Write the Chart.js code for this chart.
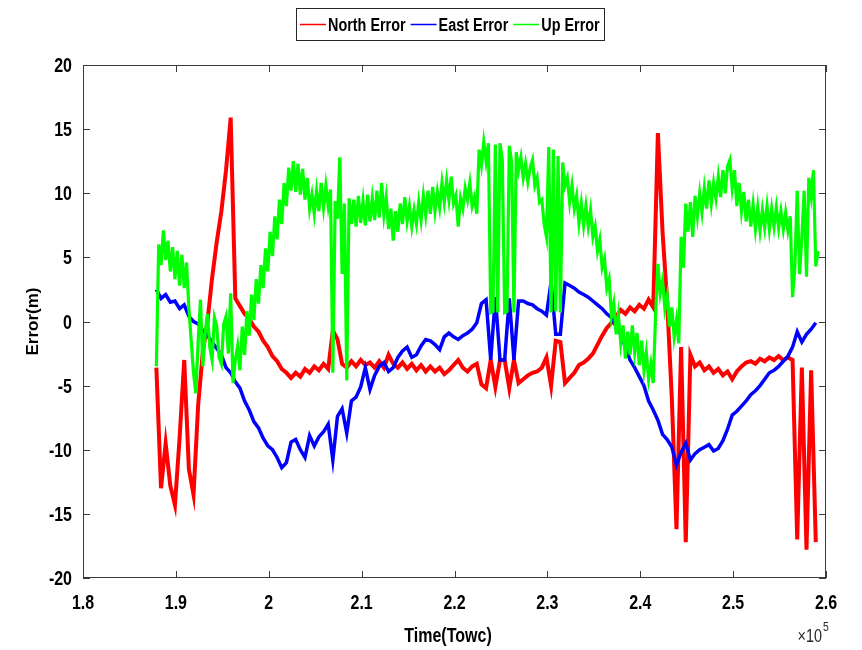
<!DOCTYPE html>
<html>
<head>
<meta charset="utf-8">
<script src="https://cdn.jsdelivr.net/npm/chart.js@4.4.0/dist/chart.umd.min.js"></script>
<style>
  html, body { margin: 0; padding: 0; background: #fff; }
  #wrap { width: 862px; height: 650px; }
</style>
</head>
<body>
<div id="wrap"><canvas id="errChart" width="862" height="650"></canvas></div>
<script>
// time of week (s) for North / East, every 500 s
const towc = [
  187900,188400,188900,189400,189900,190400,190900,191400,191900,192400,
  192900,193400,193900,194400,194900,195400,195900,196400,196900,197400,
  197900,198400,198900,199400,199900,200400,200900,201400,201900,202400,
  202900,203400,203900,204400,204900,205400,205900,206400,206900,207400,
  207900,208400,208900,209400,209900,210400,210900,211400,211900,212400,
  212900,213400,213900,214400,214900,215400,215900,216400,216900,217400,
  217900,218400,218900,219400,219900,220400,220900,221400,221900,222400,
  222900,223400,223900,224400,224900,225400,225900,226400,226900,227400,
  227900,228400,228900,229400,229900,230400,230900,231400,231900,232400,
  232900,233400,233900,234400,234900,235400,235900,236400,236900,237400,
  237900,238400,238900,239400,239900,240400,240900,241400,241900,242400,
  242900,243400,243900,244400,244900,245400,245900,246400,246900,247400,
  247900,248400,248900,249400,249900,250400,250900,251400,251900,252400,
  252900,253400,253900,254400,254900,255400,255900,256400,256900,257400,
  257900,258400,258900
];

const northError = [
  -3.6,-13.0,-9.5,-12.8,-14.3,-9.1,-3.0,-11.5,-13.5,-6.5,
  -2.4,0.0,3.4,6.2,8.6,11.8,15.9,1.8,1.2,0.6,
  0.2,-0.4,-0.8,-1.5,-2.0,-2.7,-3.1,-3.7,-4.0,-4.4,
  -4.0,-4.3,-3.7,-4.0,-3.5,-3.8,-3.3,-3.7,-0.7,-1.4,
  -3.3,-3.6,-3.1,-3.5,-3.0,-3.4,-3.2,-3.6,-3.1,-3.6,
  -2.6,-3.3,-3.6,-3.2,-3.7,-3.3,-3.8,-3.4,-3.9,-3.5,
  -3.9,-3.6,-4.1,-3.8,-3.4,-3.0,-3.6,-3.9,-3.5,-3.3,
  -4.9,-5.2,-3.0,-5.1,-3.0,-3.0,-5.2,-3.0,-4.8,-4.5,
  -4.2,-4.0,-3.9,-3.6,-2.8,-5.0,-1.5,-1.6,-4.8,-4.4,
  -4.0,-3.4,-3.2,-2.9,-2.5,-1.8,-1.1,-0.5,-0.1,0.4,
  0.9,0.6,1.1,0.8,1.3,1.0,1.7,1.1,14.7,7.0,
  1.5,-6.0,-16.2,-2.0,-17.2,-2.6,-3.5,-3.2,-3.8,-3.5,
  -4.0,-3.7,-4.2,-3.9,-4.5,-3.9,-3.5,-3.2,-3.1,-3.3,
  -2.9,-3.1,-2.8,-3.0,-2.7,-3.0,-2.8,-3.0,-17.0,-3.6,
  -17.8,-3.8,-17.2
];

const eastError = [
  2.5,1.8,2.1,1.5,1.6,1.0,1.3,0.4,0.0,-0.2,
  -0.7,-1.1,-1.6,-2.1,-2.6,-3.6,-4.0,-4.7,-5.2,-6.2,
  -6.9,-7.8,-8.3,-9.1,-9.7,-10.0,-10.6,-11.4,-11.0,-9.4,
  -9.2,-10.0,-10.6,-8.9,-9.7,-9.0,-8.6,-8.0,-10.8,-7.4,
  -6.8,-8.7,-6.2,-5.9,-5.1,-3.6,-5.3,-4.2,-3.5,-3.2,
  -3.9,-3.6,-2.8,-2.3,-2.0,-2.8,-2.6,-1.9,-1.4,-1.5,
  -1.8,-2.2,-1.2,-0.9,-1.2,-1.4,-1.1,-0.9,-0.6,-0.1,
  1.4,1.7,-3.0,1.9,-3.0,-3.0,1.8,-3.0,1.6,1.6,
  1.4,1.3,1.0,0.8,0.5,3.1,-1.0,-1.0,3.0,2.8,
  2.6,2.3,2.1,1.9,1.6,1.3,1.0,0.6,0.3,-0.4,
  -1.0,-2.0,-3.0,-3.6,-4.3,-5.0,-6.2,-6.9,-7.7,-8.8,
  -9.2,-9.8,-11.2,-10.2,-9.5,-10.8,-10.3,-10.0,-9.8,-9.6,
  -10.1,-9.9,-9.3,-8.4,-7.3,-7.0,-6.6,-6.2,-5.7,-5.4,
  -5.0,-4.5,-4.0,-3.8,-3.5,-3.1,-2.7,-2.0,-0.8,-1.6,
  -1.0,-0.6,-0.1
];

// Up error is noisier, read every 250 s (alternating band top / bottom)
const upTowc = [
  187900,188150,188400,188650,188900,189150,189400,189650,189900,190150,
  190400,190650,190900,191150,191400,191650,191900,192150,192400,192650,
  192900,193150,193400,193650,193900,194150,194400,194650,194900,195150,
  195400,195650,195900,196150,196400,196650,196900,197150,197400,197650,
  197900,198150,198400,198650,198900,199150,199400,199650,199900,200150,
  200400,200650,200900,201150,201400,201650,201900,202150,202400,202650,
  202900,203150,203400,203650,203900,204150,204400,204650,204900,205150,
  205400,205650,205900,206150,206400,206650,206900,207150,207400,207650,
  207900,208150,208400,208650,208900,209150,209400,209650,209900,210150,
  210400,210650,210900,211150,211400,211650,211900,212150,212400,212650,
  212900,213150,213400,213650,213900,214150,214400,214650,214900,215150,
  215400,215650,215900,216150,216400,216650,216900,217150,217400,217650,
  217900,218150,218400,218650,218900,219150,219400,219650,219900,220150,
  220400,220650,220900,221150,221400,221650,221900,222150,222400,222650,
  222900,223150,223400,223650,223900,224150,224400,224650,224900,225150,
  225400,225650,225900,226150,226400,226650,226900,227150,227400,227650,
  227900,228150,228400,228650,228900,229150,229400,229650,229900,230150,
  230400,230650,230900,231150,231400,231650,231900,232150,232400,232650,
  232900,233150,233400,233650,233900,234150,234400,234650,234900,235150,
  235400,235650,235900,236150,236400,236650,236900,237150,237400,237650,
  237900,238150,238400,238650,238900,239150,239400,239650,239900,240150,
  240400,240650,240900,241150,241400,241650,241900,242150,242400,242650,
  242900,243150,243400,243650,243900,244150,244400,244650,244900,245150,
  245400,245650,245900,246150,246400,246650,246900,247150,247400,247650,
  247900,248150,248400,248650,248900,249150,249400,249650,249900,250150,
  250400,250650,250900,251150,251400,251650,251900,252150,252400,252650,
  252900,253150,253400,253650,253900,254150,254400,254650,254900,255150,
  255400,255650,255900,256150,256400,256650,256900,257150,257400,257650,
  257900,258150,258400,258650,258900,259150
];

const upError = [
  -3.5,6.0,4.4,7.1,4.8,6.3,3.9,5.8,3.3,5.5,
  2.8,5.2,2.6,4.6,1.0,-1.5,-4.0,-5.6,-1.5,1.7,
  -3.5,-1.0,0.6,-2.0,-3.0,0.3,-0.4,-2.8,-3.3,-0.2,
  0.4,-2.5,2.2,-4.8,-3.0,-1.9,-3.8,-0.4,-2.6,0.8,
  -1.1,2.1,0.1,3.3,1.4,4.4,2.6,5.7,3.9,7.0,
  5.1,8.2,6.4,9.5,7.6,10.8,9.0,12.0,10.2,12.5,
  10.1,12.3,9.9,11.9,9.5,11.2,8.8,9.9,8.4,10.2,
  8.6,10.8,8.9,10.6,9.0,10.3,-4.0,9.4,8.0,12.8,
  3.7,9.2,-4.6,9.6,7.6,9.5,7.4,9.8,7.7,9.4,
  7.5,9.9,7.8,9.6,7.9,10.2,8.1,10.8,8.3,9.7,
  7.2,8.8,6.3,8.6,7.0,9.2,7.6,9.7,7.8,9.0,
  7.4,8.7,7.6,9.3,7.9,9.8,8.3,10.2,8.4,10.5,
  8.6,10.1,8.9,10.8,9.3,11.0,9.5,11.3,9.2,9.8,
  7.4,9.6,8.8,10.4,9.5,10.8,9.0,9.7,8.4,13.4,
  12.2,14.0,12.5,13.9,0.7,0.8,13.8,0.7,13.9,12.6,
  0.7,0.8,13.7,12.4,0.7,13.2,11.8,12.8,11.2,12.3,
  10.9,12.0,12.6,10.6,11.2,9.3,9.5,7.6,6.6,13.6,
  0.7,13.4,0.8,12.9,0.7,12.4,10.6,11.2,9.3,10.6,
  8.8,9.8,7.7,9.2,7.5,9.0,7.4,8.7,6.6,7.4,
  5.5,6.4,4.2,4.9,2.6,3.3,0.4,1.4,-1.0,0.5,
  -1.7,-0.3,-2.9,-0.8,-2.6,-0.3,-2.4,-0.9,-3.4,-1.5,
  -3.8,-2.4,-4.5,-3.3,-4.8,0.5,4.5,2.2,3.2,1.0,
  2.0,-0.4,1.1,-1.2,0.1,-1.7,6.6,4.2,9.2,7.0,
  9.3,6.6,9.8,8.2,10.0,8.5,10.4,8.8,11.0,9.2,
  10.8,9.6,11.3,9.7,11.8,10.0,12.1,12.6,10.4,11.8,
  9.0,10.8,8.6,10.1,7.8,9.5,7.4,9.1,7.2,8.9,
  7.1,8.7,7.3,9.0,7.2,8.8,7.4,8.9,7.3,8.6,
  7.2,8.5,7.1,8.2,1.9,4.3,10.2,3.7,6.5,10.2,
  3.5,11.2,9.8,11.8,4.3,5.5
];

const seriesNames = ["North Error", "East Error", "Up Error"];
const seriesColors = ["#ff0000", "#0000ff", "#00ff00"];
const xTicks = [180000, 190000, 200000, 210000, 220000, 230000, 240000, 250000, 260000];
const yTicks = [-20, -15, -10, -5, 0, 5, 10, 15, 20];

const sans = '"Liberation Sans", Arial, sans-serif';
const narrowScale = 0.8; // no Arial Narrow here, squeeze Liberation Sans instead

function toPoints(times, values) {
  return times.map((t, i) => ({ x: t, y: values[i] }));
}

function narrowText(ctx, text, x, y, align, font) {
  ctx.save();
  ctx.font = font;
  ctx.translate(x, y);
  ctx.scale(narrowScale, 1);
  ctx.textAlign = align;
  ctx.fillText(text, 0, 0);
  ctx.restore();
}

// matlab look: boxed axes, inward ticks, narrow bold labels, framed legend
const matlabFrame = {
  id: "matlabFrame",
  afterDraw(chart) {
    const { ctx, chartArea: a, scales } = chart;
    ctx.save();
    ctx.strokeStyle = "#3a3a3a";
    ctx.lineWidth = 1;
    ctx.strokeRect(a.left + 0.5, a.top + 0.5, a.right - a.left - 1, a.bottom - a.top - 1);
    ctx.beginPath();
    xTicks.forEach((v) => {
      const px = Math.round(scales.x.getPixelForValue(v)) + 0.5;
      ctx.moveTo(px, a.bottom); ctx.lineTo(px, a.bottom - 7);
      ctx.moveTo(px, a.top); ctx.lineTo(px, a.top + 7);
    });
    yTicks.forEach((v) => {
      const py = Math.round(scales.y.getPixelForValue(v)) + 0.5;
      ctx.moveTo(a.left, py); ctx.lineTo(a.left + 7, py);
      ctx.moveTo(a.right, py); ctx.lineTo(a.right - 7, py);
    });
    ctx.stroke();

    // tick labels
    ctx.fillStyle = "#000";
    ctx.textBaseline = "alphabetic";
    const tickFont = "bold 20px " + sans;
    xTicks.forEach((v) => {
      const label = String(Math.round(v / 1e4) / 10);
      narrowText(ctx, label, scales.x.getPixelForValue(v), 609, "center", tickFont);
    });
    yTicks.forEach((v) => {
      narrowText(ctx, String(v), a.left - 11, scales.y.getPixelForValue(v) + 7, "right", tickFont);
    });

    // axis titles
    narrowText(ctx, "Time(Towc)", 448, 642, "center", "bold 20px " + sans);
    ctx.save();
    ctx.translate(38, (a.top + a.bottom) / 2);
    ctx.rotate(-Math.PI / 2);
    ctx.font = "bold 17px " + sans;
    ctx.textAlign = "center";
    ctx.fillText("Error(m)", 0, 0);
    ctx.restore();

    // exponent
    ctx.fillStyle = "#262626";
    narrowText(ctx, "\u00d710", 822, 642, "right", "18px " + sans);
    narrowText(ctx, "5", 823, 631, "left", "13px " + sans);

    // legend
    const legFont = "bold 18px " + sans;
    ctx.font = legFont;
    const sample = 26, gap = 2, itemGap = 5, padX = 4;
    const widths = seriesNames.map((n) => ctx.measureText(n).width * narrowScale);
    let total = padX * 2 + itemGap * (seriesNames.length - 1);
    widths.forEach((w) => { total += sample + gap + w; });
    total = Math.round(total);
    const boxTop = 8, boxH = 32;
    const x0 = Math.round(450 - total / 2);
    ctx.fillStyle = "#fff";
    ctx.fillRect(x0, boxTop, total, boxH);
    ctx.strokeStyle = "#262626";
    ctx.lineWidth = 1;
    ctx.strokeRect(x0 + 0.5, boxTop + 0.5, total, boxH);
    let x = x0 + padX;
    const cy = boxTop + boxH / 2;
    seriesNames.forEach((name, i) => {
      ctx.strokeStyle = seriesColors[i];
      ctx.lineWidth = 1.5;
      ctx.beginPath();
      ctx.moveTo(x, cy + 0.5); ctx.lineTo(x + sample, cy + 0.5);
      ctx.stroke();
      x += sample + gap;
      ctx.fillStyle = "#000";
      narrowText(ctx, name, x, cy + 7, "left", legFont);
      x += widths[i] + itemGap;
    });
    ctx.restore();
  }
};

new Chart(document.getElementById("errChart"), {
  type: "line",
  data: {
    datasets: [
      { label: seriesNames[0], data: toPoints(towc, northError), borderColor: seriesColors[0], borderWidth: 4, order: 3 },
      { label: seriesNames[1], data: toPoints(towc, eastError), borderColor: seriesColors[1], borderWidth: 3.5, order: 2 },
      { label: seriesNames[2], data: toPoints(upTowc, upError), borderColor: seriesColors[2], borderWidth: 3.2, order: 1 },
    ],
  },
  options: {
    responsive: false,
    devicePixelRatio: 1,
    animation: false,
    parsing: false,
    elements: { point: { radius: 0 }, line: { tension: 0 } },
    layout: { padding: { top: 65, right: 36, bottom: 0, left: 0 } },
    plugins: { legend: { display: false }, tooltip: { enabled: false } },
    scales: {
      x: {
        type: "linear",
        min: 180000,
        max: 260000,
        grid: { display: false },
        border: { display: false },
        ticks: { display: false, stepSize: 10000 },
        afterFit: (scale) => { scale.height = 72; },
      },
      y: {
        min: -20,
        max: 20,
        grid: { display: false },
        border: { display: false },
        ticks: { display: false, stepSize: 5 },
        afterFit: (scale) => { scale.width = 83; },
      },
    },
  },
  plugins: [matlabFrame],
});
</script>
</body>
</html>
